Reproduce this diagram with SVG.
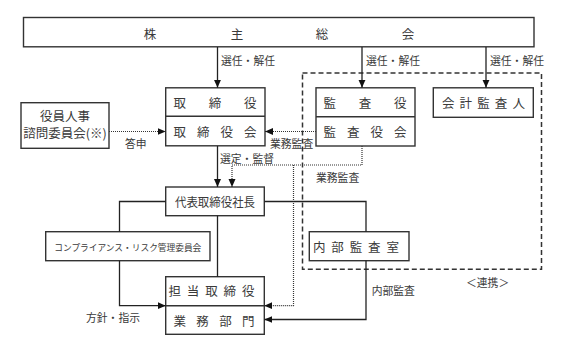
<svg xmlns="http://www.w3.org/2000/svg" width="574" height="353" viewBox="0 0 574 353">
<defs>
<style>
.box{fill:#fff;stroke:#333;stroke-width:1.4}
.t{font-family:"Noto Sans CJK JP","Noto Sans CJK SC",sans-serif;fill:#3a3a3a;dominant-baseline:central}
.b{font-size:12.5px}
.l{font-size:10.8px}
.s{font-size:8.6px}
.ln{fill:none;stroke:#222;stroke-width:1.3}
.dt{fill:none;stroke:#333;stroke-width:1.2;stroke-dasharray:1 1}
.dash{fill:none;stroke:#333;stroke-width:1.5;stroke-dasharray:5 3}
</style>
<marker id="ah" viewBox="0 0 8 8" refX="8" refY="4" markerWidth="8" markerHeight="8" markerUnits="userSpaceOnUse" orient="auto">
<path d="M0,0.5 L8,4 L0,7.5 Z" fill="#111"/>
</marker>
</defs>
<rect width="574" height="353" fill="#fff"/>

<rect id="renkei" class="dash" x="302.5" y="73" width="239" height="196.3"/>

<g id="kabunushi">
<rect class="box" x="23.5" y="17.5" width="510.5" height="29.3"/>
<text class="t b" x="150" y="33" text-anchor="middle">株</text>
<text class="t b" x="237" y="33" text-anchor="middle">主</text>
<text class="t b" x="322" y="33" text-anchor="middle">総</text>
<text class="t b" x="408" y="33" text-anchor="middle">会</text>
</g>

<g id="torishimari">
<rect class="box" x="165.7" y="87.8" width="99.3" height="58"/>
<line x1="165.7" y1="116.2" x2="265" y2="116.2" stroke="#333" stroke-width="1.4"/>
<text class="t b" x="173.5" y="102" textLength="83" lengthAdjust="spacing">取締役</text>
<text class="t b" x="173.5" y="131" textLength="83" lengthAdjust="spacing">取締役会</text>
</g>

<g id="kansa">
<rect class="box" x="316" y="87.8" width="99" height="58.2"/>
<line x1="316" y1="116.7" x2="415" y2="116.7" stroke="#333" stroke-width="1.4"/>
<text class="t b" x="323.5" y="102" textLength="83" lengthAdjust="spacing">監査役</text>
<text class="t b" x="323.5" y="131" textLength="83" lengthAdjust="spacing">監査役会</text>
</g>

<g id="kaikei">
<rect class="box" x="433.3" y="87.8" width="100" height="29.5"/>
<text class="t b" x="442" y="102" textLength="83" lengthAdjust="spacing">会計監査人</text>
</g>

<g id="shimon">
<rect class="box" x="21" y="102.7" width="88" height="45.6"/>
<text class="t b" x="65" y="115" text-anchor="middle">役員人事</text>
<text class="t b" x="65" y="132.3" text-anchor="middle">諮問委員会(※)</text>
</g>

<g id="shacho">
<rect class="box" x="165.7" y="187" width="98.6" height="28.7"/>
<text class="t b" x="175" y="201" textLength="80" lengthAdjust="spacingAndGlyphs">代表取締役社長</text>
</g>

<g id="compliance">
<rect class="box" x="45.7" y="231.7" width="164.3" height="29"/>
<text class="t s" x="54.3" y="246.5" textLength="147" lengthAdjust="spacingAndGlyphs">コンプライアンス・リスク管理委員会</text>
</g>

<g id="naibu">
<rect class="box" x="309.3" y="231.7" width="99.7" height="29"/>
<text class="t b" x="313" y="246.5" textLength="86" lengthAdjust="spacing">内部監査室</text>
</g>

<g id="tanto">
<rect class="box" x="165.7" y="276.7" width="98.6" height="57.6"/>
<line x1="165.7" y1="305.7" x2="264.3" y2="305.7" stroke="#333" stroke-width="1.4"/>
<text class="t b" x="168.5" y="290" textLength="86" lengthAdjust="spacing">担当取締役</text>
<text class="t b" x="173.5" y="320" textLength="81" lengthAdjust="spacing">業務部門</text>
</g>

<g id="connectors">
<line class="ln" x1="217.5" y1="47" x2="217.5" y2="87.8" marker-end="url(#ah)"/>
<line class="ln" x1="362" y1="47" x2="362" y2="87.8" marker-end="url(#ah)"/>
<line class="ln" x1="486" y1="47" x2="486" y2="87.8" marker-end="url(#ah)"/>
<line class="dt" x1="109" y1="131.5" x2="165.7" y2="131.5" marker-end="url(#ah)"/>
<line class="dt" x1="316" y1="131.5" x2="265" y2="131.5" marker-end="url(#ah)"/>
<path class="dt" d="M362,146 V165 H232 V187" marker-end="url(#ah)"/>
<path class="dt" d="M293.5,165 V305.7 H264.3" marker-end="url(#ah)"/>
<line class="ln" x1="217.5" y1="146" x2="217.5" y2="187" marker-end="url(#ah)"/>
<path class="ln" d="M165.7,201.5 H119.5 V231.7"/>
<path class="ln" d="M119.5,260.7 V305.7 H165.7" marker-end="url(#ah)"/>
<line class="ln" x1="217.5" y1="215.7" x2="217.5" y2="276.7"/>
<path class="ln" d="M264.3,201.5 H366 V231.7"/>
<path class="ln" d="M366,260.7 V319.5 H264.3" marker-end="url(#ah)"/>
</g>

<g id="labels">
<text class="t l" x="221" y="60">選任・解任</text>
<text class="t l" x="366" y="60">選任・解任</text>
<text class="t l" x="490" y="60">選任・解任</text>
<text class="t l" x="125" y="143.3">答申</text>
<text class="t l" x="270" y="143.3">業務監査</text>
<text class="t l" x="220" y="157.7">選定・監督</text>
<text class="t l" x="316" y="176.7">業務監査</text>
<text class="t l" x="86" y="316.7">方針・指示</text>
<text class="t l" x="371.7" y="290">内部監査</text>
<text class="t l" x="466" y="281.7">＜連携＞</text>
</g>
</svg>
